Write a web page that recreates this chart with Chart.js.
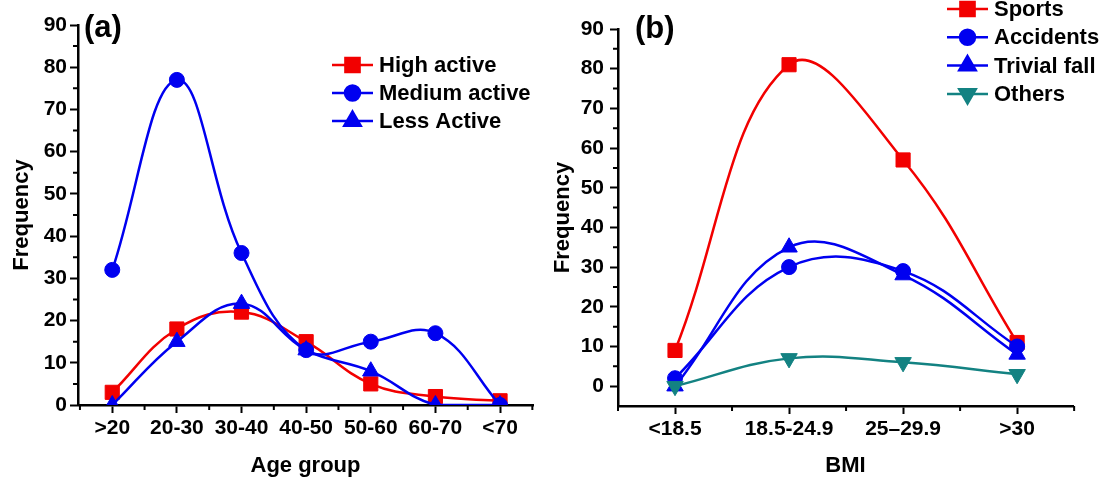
<!DOCTYPE html>
<html>
<head>
<meta charset="utf-8">
<script src="https://cdn.jsdelivr.net/npm/chart.js@4.4.0/dist/chart.umd.min.js"></script>
<style>
  html, body { margin: 0; padding: 0; background: #fff; }
  .panel { position: absolute; top: 0; height: 479px; }
  #wrapA { left: 0; width: 550px; }
  #wrapB { left: 550px; width: 551px; }
</style>
</head>
<body>
<div class="panel" id="wrapA"><canvas id="chartA"></canvas></div>
<div class="panel" id="wrapB"><canvas id="chartB"></canvas></div>
<script>
// panel (a): age groups
var ageGroups = [">20", "20-30", "30-40", "40-50", "50-60", "60-70", "<70"];
var highActive = [3, 18, 22, 15, 5, 2, 1];
var mediumActive = [32, 77, 36, 13, 15, 17, 0];
var lessActive = [0, 15, 24, 13, 8, 0, 0];

// panel (b): BMI
var bmiGroups = ["<18.5", "18.5-24.9", "25\u201329.9", ">30"];
var sports = [9, 81, 57, 11];
var accidents = [2, 30, 29, 10];
var trivialFall = [0, 35, 28, 8];
var others = [0, 7, 6, 3];

var freqTicks = [0, 10, 20, 30, 40, 50, 60, 70, 80, 90];

var FONT = 'Arial, "Liberation Sans", sans-serif';
var RED = "#f20000";
var BLUE = "#0000f0";
var TEAL = "#138282";

function points(values) {
    return values.map(function (v, i) { return { x: i, y: v }; });
}

function series(label, values, color, style, radius, rotation, order) {
    return {
        label: label,
        data: points(values),
        borderColor: color,
        backgroundColor: color,
        pointBackgroundColor: color,
        pointBorderColor: color,
        pointBorderWidth: 1,
        pointStyle: style,
        pointRadius: radius,
        pointRotation: rotation,
        borderWidth: 2.5,
        tension: 0.4,
        fill: false,
        order: order
    };
}

// minor ticks, legend and the panel tag
var extras = {
    id: "extras",
    afterDraw: function (chart, args, opts) {
        var ctx = chart.ctx;
        var xs = chart.scales.x, ys = chart.scales.y;
        var area = chart.chartArea;
        ctx.save();
        ctx.strokeStyle = "#000";
        ctx.lineWidth = 2;
        ctx.beginPath();
        for (var v = -0.5; v <= xs.max + 0.01; v += 1) {
            if (v < xs.min) continue;
            var px = xs.getPixelForValue(v);
            ctx.moveTo(px, area.bottom);
            ctx.lineTo(px, area.bottom + 5);
        }
        for (var t = 5; t < 90; t += 10) {
            var py = ys.getPixelForValue(t);
            ctx.moveTo(area.left, py);
            ctx.lineTo(area.left - 5, py);
        }
        ctx.stroke();

        // legend
        ctx.font = "bold 22px " + FONT;
        ctx.textBaseline = "middle";
        ctx.textAlign = "left";
        chart.data.datasets.forEach(function (ds, i) {
            var y = opts.legendY + i * opts.legendStep;
            ctx.strokeStyle = ds.borderColor;
            ctx.lineWidth = 2.5;
            ctx.beginPath();
            ctx.moveTo(opts.legendX, y);
            ctx.lineTo(opts.legendX + 41, y);
            ctx.stroke();
            ctx.fillStyle = ds.borderColor;
            Chart.helpers.drawPoint(ctx, {
                pointStyle: ds.pointStyle,
                radius: ds.pointRadius,
                rotation: ds.pointRotation,
                borderWidth: 1
            }, opts.legendX + 20.5, y);
            ctx.fillStyle = "#000";
            ctx.fillText(ds.label, opts.legendX + 47, y + 1);
        });

        ctx.font = "bold 31px " + FONT;
        ctx.textBaseline = "alphabetic";
        ctx.fillStyle = "#000";
        ctx.fillText(opts.tag, opts.tagX, opts.tagY);
        ctx.restore();
    }
};

function makeOptions(cfg) {
    return {
        responsive: true,
        maintainAspectRatio: false,
        animation: false,
        devicePixelRatio: 1,
        layout: { padding: cfg.padding },
        plugins: {
            legend: { display: false },
            tooltip: { enabled: false },
            extras: cfg.extras
        },
        scales: {
            x: {
                type: "linear",
                min: cfg.xMin,
                max: cfg.xMax,
                afterBuildTicks: function (scale) {
                    scale.ticks = cfg.labels.map(function (_, i) { return { value: i }; });
                },
                afterFit: function (scale) { scale.height = cfg.xHeight; },
                ticks: {
                    autoSkip: false,
                    maxRotation: 0,
                    padding: 3,
                    color: "#000",
                    font: { family: FONT, size: 21, weight: "bold" },
                    callback: function (value) { return cfg.labels[value]; }
                },
                grid: { drawOnChartArea: false, tickLength: 8, tickColor: "#000", tickWidth: 2 },
                border: { color: "#000", width: 2.5 },
                title: {
                    display: true,
                    text: cfg.xTitle,
                    color: "#000",
                    padding: { top: 0, bottom: 0 },
                    font: { family: FONT, size: 22, weight: "bold" }
                }
            },
            y: {
                min: cfg.yMin,
                max: 90,
                afterBuildTicks: function (scale) {
                    scale.ticks = freqTicks.map(function (v) { return { value: v }; });
                },
                afterFit: function (scale) { scale.width = cfg.yWidth; },
                ticks: {
                    padding: cfg.yTickPad,
                    color: "#000",
                    font: { family: FONT, size: 21, weight: "bold" }
                },
                grid: { drawOnChartArea: false, tickLength: 8, tickColor: "#000", tickWidth: 2 },
                border: { color: "#000", width: 2.5 },
                title: {
                    display: true,
                    text: "Frequency",
                    color: "#000",
                    padding: { top: cfg.yTitlePad, bottom: 0 },
                    font: { family: FONT, size: 22, weight: "bold" }
                }
            }
        }
    };
}

new Chart("chartA", {
    type: "line",
    data: {
        datasets: [
            series("High active", highActive, RED, "rect", 10, 0, 3),
            series("Medium active", mediumActive, BLUE, "circle", 7.5, 0, 2),
            series("Less Active", lessActive, BLUE, "triangle", 9.5, 0, 1)
        ]
    },
    options: makeOptions({
        labels: ageGroups,
        xMin: -0.53,
        xMax: 6.51,
        yMin: 0,
        xHeight: 74,
        yWidth: 78,
        yTickPad: 3,
        yTitlePad: 9,
        xTitle: "Age group",
        padding: { top: 25, right: 17, left: 0, bottom: 0 },
        extras: { legendX: 332, legendY: 65, legendStep: 28, tag: "(a)", tagX: 84, tagY: 37 }
    }),
    plugins: [extras]
});

new Chart("chartB", {
    type: "line",
    data: {
        datasets: [
            series("Sports", sports, RED, "rect", 10, 0, 4),
            series("Accidents", accidents, BLUE, "circle", 7.5, 0, 3),
            series("Trivial fall", trivialFall, BLUE, "triangle", 9.5, 0, 2),
            series("Others", others, TEAL, "triangle", 9.5, 180, 1)
        ]
    },
    options: makeOptions({
        labels: bmiGroups,
        xMin: -0.5,
        xMax: 3.49,
        yMin: -5,
        xHeight: 73,
        yWidth: 68,
        yTickPad: 6,
        yTitlePad: 0,
        xTitle: "BMI",
        padding: { top: 29, right: 28, left: 0, bottom: 0 },
        extras: { legendX: 397, legendY: 9, legendStep: 28.3, tag: "(b)", tagX: 85, tagY: 38 }
    }),
    plugins: [extras]
});
</script>
</body>
</html>
